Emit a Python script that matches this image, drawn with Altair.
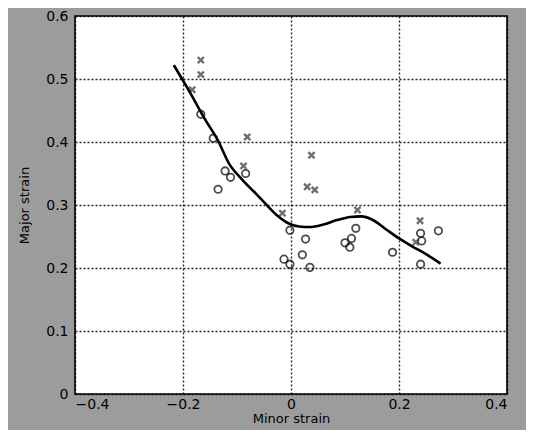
import altair as alt
import pandas as pd

# Crosses (x markers)
cross_x = [-0.167, -0.167, -0.183, -0.081, -0.088, 0.038, 0.030, 0.044, -0.016, 0.123, 0.239, 0.231]
cross_y = [0.530, 0.507, 0.483, 0.408, 0.362, 0.379, 0.329, 0.324, 0.287, 0.292, 0.275, 0.241]

# Circles (o markers)
circ_x = [-0.167, -0.144, -0.122, -0.112, -0.135, -0.084, -0.002, 0.027, 0.021, -0.013, -0.002,
          0.035, 0.120, 0.100, 0.109, 0.112, 0.188, 0.240, 0.242, 0.273, 0.240]
circ_y = [0.444, 0.406, 0.354, 0.344, 0.325, 0.350, 0.260, 0.246, 0.221, 0.214, 0.206,
          0.201, 0.263, 0.240, 0.233, 0.247, 0.225, 0.255, 0.243, 0.259, 0.206]

# Fitted curve
fit_x = [-0.217, -0.19, -0.16, -0.135, -0.115, -0.09, -0.065, -0.045, -0.025, -0.005, 0.015,
         0.035, 0.06, 0.085, 0.11, 0.13, 0.15, 0.175, 0.2, 0.225, 0.25, 0.277]
fit_y = [0.522, 0.483, 0.437, 0.402, 0.366, 0.340, 0.318, 0.300, 0.283, 0.271, 0.266,
         0.265, 0.269, 0.276, 0.281, 0.282, 0.277, 0.262, 0.247, 0.234, 0.222, 0.207]

x_ticks = [-0.4, -0.2, 0, 0.2, 0.4]
y_ticks = [0, 0.1, 0.2, 0.3, 0.4, 0.5, 0.6]

cross_df = pd.DataFrame({"x": cross_x, "y": cross_y})
circ_df = pd.DataFrame({"x": circ_x, "y": circ_y})
fit_df = pd.DataFrame({"x": fit_x, "y": fit_y})

FONT = "DejaVu Sans"

xscale = alt.Scale(domain=[-0.4, 0.4], nice=False, zero=False)
yscale = alt.Scale(domain=[0, 0.6], nice=False, zero=False)

xaxis = alt.Axis(values=x_ticks, format=".1~f", title="Minor strain", grid=True,
                 ticks=False, domain=False, labelPadding=3, titlePadding=1,
                 titleFontSize=13)
yaxis = alt.Axis(values=y_ticks, format=".1~f", title="Major strain", grid=True,
                 ticks=False, domain=False, labelPadding=7, titlePadding=14,
                 titleFontSize=13)

line = alt.Chart(fit_df).mark_line(color="black", strokeWidth=2.6, interpolate="monotone").encode(
    x=alt.X("x:Q", scale=xscale, axis=xaxis),
    y=alt.Y("y:Q", scale=yscale, axis=yaxis),
)

circles = alt.Chart(circ_df).mark_point(shape="circle", filled=False, size=55,
                                        strokeWidth=1.8, color="black").encode(
    x=alt.X("x:Q", scale=xscale),
    y=alt.Y("y:Q", scale=yscale),
)

crosses = alt.Chart(cross_df).mark_point(shape="M-1,-1L1,1M-1,1L1,-1", filled=False, size=38,
                                         strokeWidth=2.4, color="#333333").encode(
    x=alt.X("x:Q", scale=xscale),
    y=alt.Y("y:Q", scale=yscale),
)

chart = alt.layer(circles, crosses, line).properties(
    width=432,
    height=378,
    background="#9c9c9c",
    autosize=alt.AutoSizeParams(type="none"),
    padding={"left": 67, "top": 8, "right": 19, "bottom": 36},
).configure_view(
    fill="white", stroke="black", strokeWidth=1.6
).configure_axis(
    gridColor="black", gridDash=[2, 2], gridWidth=1.4, gridOpacity=0.85,
    labelFont=FONT, labelFontSize=14, labelColor="black",
    titleFont=FONT, titleColor="black", titleFontWeight="normal",
)

chart.save("out.html", embed_options={"renderer": "svg", "actions": False})
